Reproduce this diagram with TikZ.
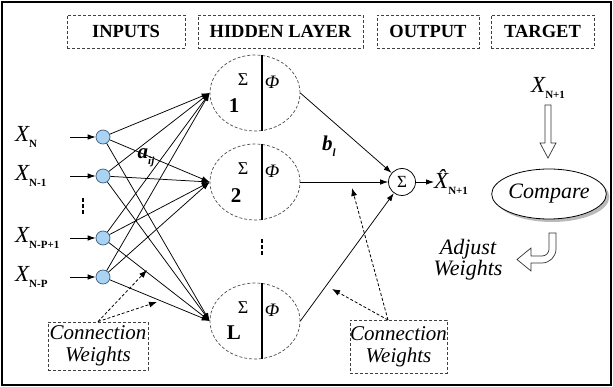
\documentclass[tikz,border=0pt]{standalone}
\usepackage{fontspec}
\setmainfont{Liberation Serif}
\usetikzlibrary{shapes.geometric,arrows.meta,shadows}
\newcommand{\myfs}[1]{\fontsize{#1}{#1}\selectfont}
\newcommand{\mysub}[1]{\raisebox{-0.55ex}{\myfs{11}\bfseries\upshape #1}}
\definecolor{nblue}{HTML}{A9D2F3}
\definecolor{nedge}{HTML}{3E5E7E}
\begin{document}
\begin{tikzpicture}[x=1pt,y=-1pt,
  hdr/.style={draw=black!75, dash pattern=on 3pt off 2pt, line width=0.9pt, minimum height=33, inner sep=0, font=\myfs{18.5}\bfseries},
  inn/.style={circle, draw=nedge, fill=nblue, line width=0.7pt, minimum size=14, inner sep=0},
  hid/.style={ellipse, draw=black!70, dash pattern=on 3pt off 2pt, line width=0.7pt, minimum width=90, minimum height=76, inner sep=0},
  conn/.style={-{Latex[length=8pt,width=5.5pt]}, line width=0.75pt},
  wt/.style={dash pattern=on 3pt off 2pt, -{Latex[length=8pt,width=6pt]}, line width=0.8pt},
  cwbox/.style={draw=black!75, dash pattern=on 3pt off 2pt, line width=0.8pt, align=center, inner sep=0, font={\fontsize{21}{22}\selectfont\itshape}},
  hollow/.style={draw=black!80, line width=0.7pt, fill=white},
  xlab/.style={anchor=west, inner sep=0, font=\myfs{23}\itshape},
  sig/.style={inner sep=0, font=\myfs{18}},
  num/.style={inner sep=0, font=\myfs{21}\bfseries},
  phi/.style={inner sep=0, font=\myfs{19}\itshape},
  dotm/.style={fill=black, draw=none, minimum width=2.8, minimum height=3.4, inner sep=0, rectangle}
]
\useasboundingbox (0,0) rectangle (613,387);
\draw[line width=1.6pt] (2,2) rectangle (611,385);

% headers
\node[hdr, minimum width=118] (hin) at (126,31.5) {INPUTS};
\node[hdr, minimum width=165] (hhid) at (280.5,31.5) {HIDDEN LAYER};
\node[hdr, minimum width=102] (hout) at (428,31.5) {OUTPUT};
\node[hdr, minimum width=103] (htar) at (542.5,31.5) {TARGET};

% input labels
\node[xlab] (lx1) at (15,137) {X\mysub{N}};
\node[xlab] (lx2) at (15,176) {X\mysub{N-1}};
\node[xlab] (lx3) at (15,238) {X\mysub{N-P+1}};
\node[xlab] (lx4) at (15,277) {X\mysub{N-P}};

% input neurons
\node[inn] (in1) at (103,137) {};
\node[inn] (in2) at (103,176) {};
\node[inn] (in3) at (103,238) {};
\node[inn] (in4) at (103,277) {};
\foreach \k/\yy in {1/137,2/176,3/238,4/277}{
  \coordinate (a\k) at (70,\yy);
  \draw[conn] (a\k) -- (in\k);
}
\node[dotm] (dA1) at (83,200) {};
\node[dotm] (dA2) at (83,206) {};
\node[dotm] (dA3) at (83,212) {};

% hidden neurons
\node[hid] (h1) at (255,93) {};
\node[hid] (h2) at (255,182) {};
\node[hid] (hL) at (255,321) {};
\foreach \h in {h1,h2,hL}{
  \draw[line width=1.4pt] ([xshift=7pt]\h.north) -- ([xshift=7pt]\h.south);
}
\node[sig] (s1) at (243,80) {Σ};
\node[num] (n1) at (234,106) {1};
\node[phi] (p1) at (272,82) {Φ};
\node[sig] (s2) at (243,169) {Σ};
\node[num] (n2) at (236,196) {2};
\node[phi] (p2) at (272,171) {Φ};
\node[sig] (sL) at (243,308) {Σ};
\node[num] (nL) at (234,333) {L};
\node[phi] (pL) at (272,310) {Φ};
\node[dotm] (dB1) at (262,241) {};
\node[dotm] (dB2) at (262,247) {};
\node[dotm] (dB3) at (262,253) {};

% input -> hidden
\foreach \i in {in1,in2,in3,in4}{
  \foreach \h in {h1,h2,hL}{
    \draw[conn] (\i) -- (\h.west);
  }
}
\node[inner sep=0, font=\myfs{21}\bfseries\itshape] (aij) at (146,158) {a\raisebox{-0.6ex}{\myfs{11}ij}};

% output
\node[circle, draw=black, line width=0.75pt, minimum size=27, inner sep=0, font=\myfs{17}] (osum) at (402,182) {Σ};
\draw[conn] (h1.east) -- (osum);
\draw[conn] (h2.east) -- (osum);
\draw[conn] (hL.east) -- (osum);
\node[inner sep=0, font=\myfs{21}\bfseries\itshape] (bl) at (329,146) {b\raisebox{-0.6ex}{\myfs{11}l}};
\node[xlab] (xhat) at (434,182) {\^{X}\mysub{N+1}};
\draw[conn] (osum) -- (xhat.west);

% connection weights boxes
\node[cwbox, minimum width=100, minimum height=48] (cw1) at (98,346) {Connection\\Weights};
\coordinate (t1) at (147,270);
\coordinate (t2) at (157,302);
\draw[wt] (cw1.north) -- (t1);
\draw[wt] (cw1.north) -- (t2);
\node[cwbox, minimum width=97, minimum height=53] (cw2) at (398.5,346.5) {Connection\\Weights};
\coordinate (cw2s) at (388,320);
\coordinate (t3) at (352,188);
\coordinate (t4) at (332,289);
\draw[wt] (cw2s) -- (t3);
\draw[wt] (cw2s) -- (t4);

% target
\node[xlab] (xn1) at (531,88) {X\mysub{N+1}};
\draw[hollow] (545,105) -- (551,105) -- (551,143) -- (556,143) -- (548,158) -- (540,143) -- (545,143) -- cycle;
\node[ellipse, draw=black, line width=0.8pt, fill=white, minimum width=88, minimum height=50, inner sep=0,
  drop shadow={shadow xshift=3pt, shadow yshift=-3pt, opacity=0.45, fill=black!60},
  font=\myfs{22}\itshape] (cmp) at (549,194) {Compare};
\draw[hollow] (549,233) -- (556,233) -- (556,249) .. controls (556,256.7) and (549.7,263) .. (542,263)
  -- (531,263) -- (531,271) -- (517,259.5) -- (531,248) -- (531,256) -- (542,256)
  .. controls (545.9,256) and (549,252.9) .. (549,249) -- cycle;
\node[inner sep=0, align=center, font={\fontsize{22}{21}\selectfont\itshape}] (adj) at (468,260) {Adjust\\Weights};
\end{tikzpicture}
\end{document}
